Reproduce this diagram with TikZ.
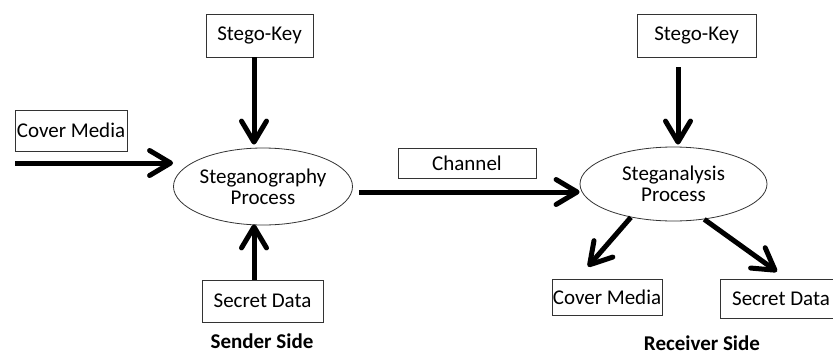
\documentclass[tikz,border=0pt]{standalone}
\usepackage{fontspec}
\setmainfont{Carlito}
\usetikzlibrary{arrows.meta}
\usetikzlibrary{calc}
\usetikzlibrary{shapes.geometric}

\begin{document}
\begin{tikzpicture}[x=1pt,y=-1pt]

	\tikzset{box/.style={draw=black!80, line width=0.8pt, inner sep=0pt, align=center, font=\fontsize{21}{22}\selectfont}}
	\tikzset{proc/.style={ellipse, draw=black!80, line width=0.8pt, inner sep=0pt, align=center, font=\fontsize{21}{21}\selectfont}}
	\tikzset{flow/.style={line width=5pt, -{Straight Barb[length=21pt,width=25pt,round]}}}
	\tikzset{side/.style={font=\fontsize{21}{22}\selectfont\bfseries}}

	\useasboundingbox (0,0) rectangle (833,354);

	% sender side
	\node[box, minimum width=107, minimum height=43] (skey) at (259.5,35.5) {Stego-Key};
	\node[box, minimum width=112, minimum height=41] (cover) at (71,130.5) {Cover Media};
	\node[proc, minimum width=178, minimum height=77] (steg) at (263,186.5) {Steganography\\Process};
	\node[box, minimum width=121, minimum height=42] (secret) at (262.5,301) {Secret Data};
	\node[side] (sender) at (262,341) {Sender Side};

	\coordinate (in) at (15,163);
	\draw[flow] (in) -- (steg.west |- in);
	\draw[flow] ($(skey.south)+(-5.5,0)$) -- ($(skey.south |- steg.north)+(-5.5,-3)$);
	\draw[flow] ($(secret.north)+(-8.5,0)$) -- ($(secret.north |- steg.south)+(-8.5,-1)$);

	% channel
	\node[box, minimum width=138, minimum height=30] (channel) at (467,163) {Channel};

	% receiver side
	\node[box, minimum width=119, minimum height=43] (skey2) at (696.5,35.5) {Stego-Key};
	\node[proc, minimum width=187, minimum height=74] (anal) at (673.5,184) {Steganalysis\\Process};
	\node[box, minimum width=110, minimum height=36] (cover2) at (607,297) {Cover Media};
	\node[box, minimum width=114, minimum height=39] (secret2) at (777,298.5) {\hspace*{8pt}Secret Data};
	\node[side] (receiver) at (702,343) {Receiver Side};

	\draw[flow] ($(steg.east)+(6,5.5)$) -- ($(anal.west)+(0,8)$);
	\draw[flow] ($(skey2.south)+(-18.5,10)$) -- ($(skey2.south |- anal.north)+(-18.5,-2)$);
	\draw[flow] (anal.218) -- ($(cover2.north)+(-19,-12)$);
	\draw[flow] (anal.311) -- ($(secret2.north)+(0,-7)$);

\end{tikzpicture}
\end{document}
